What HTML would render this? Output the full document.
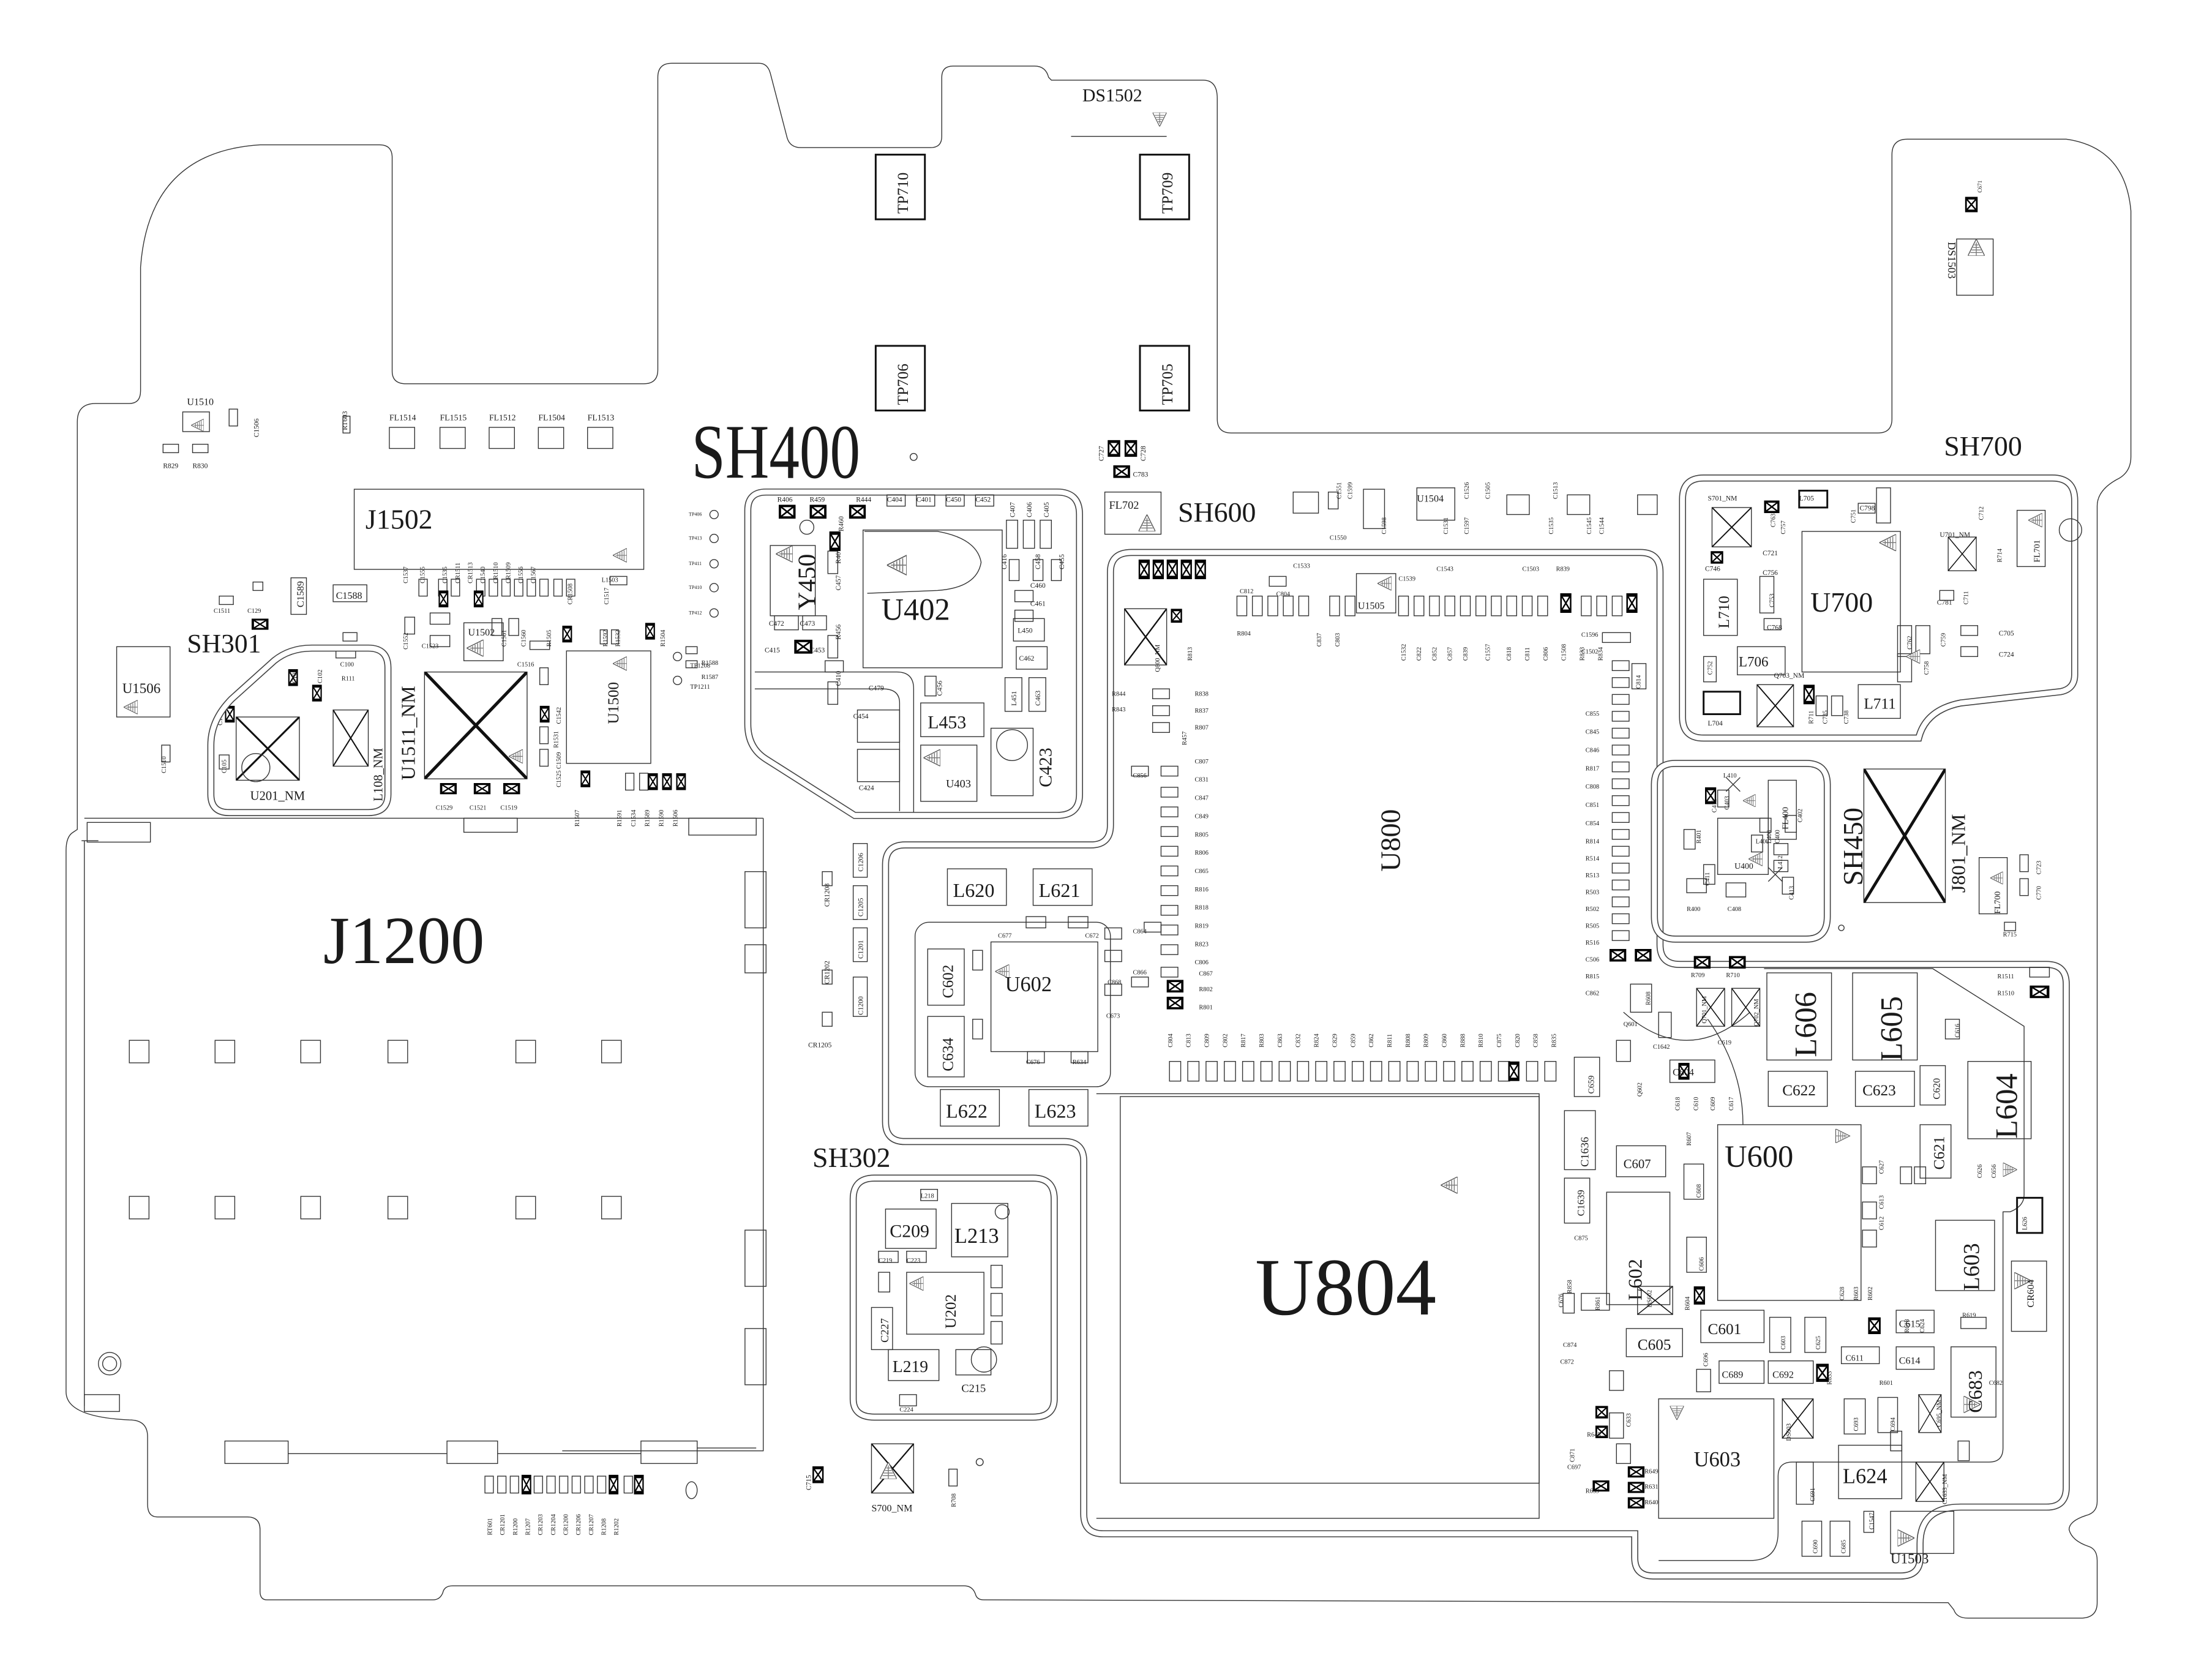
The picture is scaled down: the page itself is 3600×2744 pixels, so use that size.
<!DOCTYPE html>
<html><head><meta charset="utf-8"><style>
html,body{margin:0;padding:0;background:#fff;}
svg{display:block;}
text{font-family:"Liberation Serif",serif;fill:#1a1a1a;}
.l{fill:none;stroke:#333;stroke-width:.6}
.k{fill:none;stroke:#111;stroke-width:1.3}
.d{fill:none;stroke:#444;stroke-width:5}
.w{fill:none;stroke:#fff;stroke-width:3.6}
</style></head><body>
<svg width="3600" height="2744" viewBox="0 0 1568 1195" preserveAspectRatio="none" xmlns="http://www.w3.org/2000/svg">
<defs>
<symbol id="xb" viewBox="0 0 10 8" preserveAspectRatio="none"><rect x=".7" y=".7" width="8.6" height="6.6" fill="#fff" stroke="#000" stroke-width="1.4"/><path d="M1,1 L9,7 M9,1 L1,7" stroke="#000" stroke-width=".9"/></symbol>
<symbol id="tr" viewBox="0 0 10 10"><path d="M10,0 L0,5 L10,10 Z" fill="#fff" stroke="#555" stroke-width=".5"/><path d="M2,5 H10 M3.5,3.8 V6.2 M5,3 V7 M6.5,2.2 V7.8 M8,1.5 V8.5" stroke="#777" stroke-width=".5"/></symbol>
<symbol id="xx" viewBox="0 0 10 10" preserveAspectRatio="none"><path d="M0,0 L10,10 M10,0 L0,10" stroke="#111" stroke-width=".3"/></symbol>
</defs>
<rect width="1568" height="1195" fill="#fff"/>

<!-- board outline -->
<path class="l" d="M55,300 Q55,287 68,287 L92,287 Q100,287 100,278 L100,190 Q106,108 185,103 L270,103 Q279,103 279,112 L279,264 Q279,273 289,273 L458,273 Q468,273 468,263 L468,55 Q468,45 478,45 L540,45 Q546,45 548,52 L560,98 Q562,105 570,105 L662,105 Q670,105 670,97 L670,55 Q670,47 678,47 L736,47 Q744,47 746,55 L748,57 L856,57 Q866,57 866,70 L866,298 Q866,308 876,308 L1336,308 Q1346,308 1346,298 L1346,110 Q1346,99 1357,99 L1470,99 Q1512,105 1516,150 L1516,325 Q1516,335 1508,340 Q1492,348 1492,360 L1492,1068 Q1492,1076 1484,1078 Q1472,1082 1472,1088 Q1474,1096 1486,1100 Q1492,1102 1492,1110 L1492,1140 Q1492,1151 1480,1151 L1400,1151 Q1392,1151 1390,1145 L1386,1140 L700,1138 Q695,1138 694,1134 Q692,1128 686,1128 L322,1128 Q316,1128 315,1133 Q313,1138 308,1138 L190,1138 Q185,1138 185,1132 L185,1088 Q185,1079 176,1079 L112,1079 Q105,1079 105,1070 L105,1022 Q105,1010 92,1010 Q47,1008 47,990 L47,605 Q47,595 52,592 L55,590 Z"/>

<!-- J1200 frame -->
<path class="l" d="M60,598 V1000 M58,598 H70 M543,582 V1032 H400 M60,582 H543"/>
<g class="l"><rect x="62" y="585" width="45" height="14"/><rect x="330" y="582" width="38" height="10"/><rect x="490" y="582" width="48" height="12"/><rect x="530" y="620" width="15" height="40"/><rect x="530" y="672" width="15" height="20"/><rect x="530" y="875" width="15" height="40"/><rect x="530" y="945" width="15" height="40"/><rect x="60" y="992" width="25" height="12"/><rect x="160" y="1025" width="45" height="16"/><rect x="318" y="1025" width="36" height="16"/><rect x="456" y="1025" width="40" height="16"/><path d="M205,1034 H318 M354,1034 H456 M496,1030 H538"/><circle cx="78" cy="970" r="8"/><circle cx="78" cy="970" r="5"/></g>
<g class="l">
<rect x="92" y="740" width="14" height="16"/><rect x="153" y="740" width="14" height="16"/><rect x="214" y="740" width="14" height="16"/><rect x="276" y="740" width="14" height="16"/><rect x="367" y="740" width="14" height="16"/><rect x="428" y="740" width="14" height="16"/>
<rect x="92" y="851" width="14" height="16"/><rect x="153" y="851" width="14" height="16"/><rect x="214" y="851" width="14" height="16"/><rect x="276" y="851" width="14" height="16"/><rect x="367" y="851" width="14" height="16"/><rect x="428" y="851" width="14" height="16"/>
</g>
<text x="230" y="685" font-size="48">J1200</text>

<!-- top-left area -->
<g class="l"><rect x="130" y="293" width="19" height="14"/><rect x="163" y="291" width="6" height="12"/><rect x="116" y="316" width="11" height="6"/><rect x="137" y="316" width="11" height="6"/><rect x="244" y="296" width="5" height="12"/>
<rect x="277" y="304" width="18" height="15"/><rect x="313" y="304" width="18" height="15"/><rect x="348" y="304" width="18" height="15"/><rect x="383" y="304" width="18" height="15"/><rect x="418" y="304" width="18" height="15"/>
<rect x="252" y="348" width="206" height="57"/><rect x="207" y="411" width="11" height="26"/><rect x="237" y="416" width="24" height="12"/>
<rect x="83" y="460" width="38" height="50"/><rect x="330" y="443" width="28" height="27"/><rect x="403" y="463" width="60" height="80"/><rect x="115" y="530" width="6" height="12"/></g>
<use href="#tr" x="136" y="298" width="9" height="9"/><use href="#tr" x="88" y="498" width="10" height="10"/><use href="#tr" x="332" y="455" width="12" height="12"/><use href="#tr" x="436" y="467" width="10" height="10"/><use href="#tr" x="436" y="390" width="10" height="10"/>
<text x="133" y="288" font-size="7">U1510</text><text x="116" y="333" font-size="5">R829</text><text x="137" y="333" font-size="5">R830</text>
<text x="277" y="299" font-size="6">FL1514</text><text x="313" y="299" font-size="6">FL1515</text><text x="348" y="299" font-size="6">FL1512</text><text x="383" y="299" font-size="6">FL1504</text><text x="418" y="299" font-size="6">FL1513</text>
<text x="260" y="376" font-size="20">J1502</text><text x="239" y="426" font-size="7">C1588</text><text x="87" y="493" font-size="10">U1506</text><text x="333" y="452" font-size="7">U1502</text>
<text x="133" y="464" font-size="19">SH301</text>
<text transform="translate(184,311) rotate(-90)" font-size="5">C1506</text><text transform="translate(247,306) rotate(-90)" font-size="5">RT603</text><text transform="translate(216,432) rotate(-90)" font-size="7">C1589</text>
<text transform="translate(440,515) rotate(-90)" font-size="11">U1500</text>
<g class="l">
<rect x="312" y="412" width="6" height="12"/><rect x="321" y="412" width="6" height="12"/><rect x="339" y="412" width="6" height="12"/><rect x="348" y="412" width="6" height="12"/><rect x="357" y="412" width="6" height="12"/><rect x="366" y="412" width="6" height="12"/><rect x="375" y="412" width="6" height="12"/><rect x="384" y="412" width="6" height="12"/><rect x="394" y="412" width="6" height="12"/><rect x="403" y="412" width="6" height="12"/><rect x="434" y="410" width="12" height="6"/>
<rect x="298" y="412" width="6" height="12"/><rect x="306" y="436" width="14" height="8"/><rect x="306" y="452" width="14" height="8"/><rect x="288" y="439" width="7" height="12"/><rect x="350" y="440" width="7" height="12"/><rect x="362" y="440" width="7" height="12"/><rect x="377" y="456" width="14" height="6"/><rect x="384" y="475" width="6" height="12"/><rect x="384" y="517" width="6" height="12"/><rect x="384" y="533" width="6" height="12"/><rect x="427" y="448" width="5" height="10"/><rect x="435" y="448" width="5" height="10"/><rect x="445" y="550" width="6" height="12"/><rect x="455" y="550" width="6" height="12"/><rect x="488" y="460" width="8" height="5"/><rect x="488" y="470" width="8" height="5"/><rect x="180" y="414" width="7" height="6"/><rect x="156" y="424" width="10" height="6"/><rect x="244" y="450" width="10" height="6"/><rect x="239" y="462" width="14" height="6"/></g>
<use href="#xb" x="312" y="420" width="7" height="12"/><use href="#xb" x="337" y="420" width="7" height="12"/><use href="#xb" x="400" y="445" width="7" height="12"/><use href="#xb" x="459" y="443" width="7" height="12"/><use href="#xb" x="384" y="502" width="7" height="12"/><use href="#xb" x="413" y="548" width="7" height="12"/><use href="#xb" x="461" y="550" width="7" height="12"/><use href="#xb" x="471" y="550" width="7" height="12"/><use href="#xb" x="481" y="550" width="7" height="12"/><use href="#xb" x="313" y="557" width="12" height="8"/><use href="#xb" x="337" y="557" width="12" height="8"/><use href="#xb" x="358" y="557" width="12" height="8"/><use href="#xb" x="179" y="440" width="12" height="8"/><use href="#xb" x="205" y="476" width="7" height="12"/><use href="#xb" x="222" y="487" width="7" height="12"/><use href="#xb" x="160" y="502" width="7" height="12"/>
<g font-size="4.5"><text x="152" y="436">C1511</text><text x="176" y="436">C129</text><text x="300" y="461">C1523</text><text x="368" y="474">C1516</text><text x="310" y="576">C1529</text><text x="334" y="576">C1521</text><text x="356" y="576">C1519</text><text x="242" y="474">C100</text><text x="243" y="484">R111</text><text x="428" y="414">L1503</text><text x="499" y="473">R1588</text><text x="499" y="483">R1587</text><text x="491" y="475">TP1208</text><text x="491" y="490">TP1211</text></g>
<g font-size="4.5"><text transform="translate(412,588) rotate(-90)">R1507</text><text transform="translate(442,588) rotate(-90)">R1591</text><text transform="translate(452,588) rotate(-90)">C1534</text><text transform="translate(462,588) rotate(-90)">R1589</text><text transform="translate(472,588) rotate(-90)">R1590</text><text transform="translate(482,588) rotate(-90)">R1506</text><text transform="translate(118,550) rotate(-90)">C1510</text><text transform="translate(290,462) rotate(-90)">C1552</text><text transform="translate(399,515) rotate(-90)">C1542</text><text transform="translate(399,547) rotate(-90)">C1509</text><text transform="translate(399,560) rotate(-90)">C1525</text><text transform="translate(397,532) rotate(-90)">R1531</text><text transform="translate(290,415) rotate(-90)">C1537</text><text transform="translate(302,415) rotate(-90)">C1555</text><text transform="translate(318,415) rotate(-90)">C1535</text><text transform="translate(327,415) rotate(-90)">CR1511</text><text transform="translate(336,415) rotate(-90)">CR1513</text><text transform="translate(345,415) rotate(-90)">C1540</text><text transform="translate(354,415) rotate(-90)">CR1510</text><text transform="translate(363,415) rotate(-90)">CR1509</text><text transform="translate(372,415) rotate(-90)">C1556</text><text transform="translate(381,415) rotate(-90)">C1567</text><text transform="translate(407,430) rotate(-90)">CR1508</text><text transform="translate(433,430) rotate(-90)">C1517</text><text transform="translate(360,460) rotate(-90)">C1561</text><text transform="translate(374,460) rotate(-90)">C1560</text><text transform="translate(392,460) rotate(-90)">R1505</text><text transform="translate(432,460) rotate(-90)">R1592</text><text transform="translate(441,460) rotate(-90)">R1532</text><text transform="translate(473,460) rotate(-90)">R1504</text><text transform="translate(211,486) rotate(-90)">C103</text><text transform="translate(229,486) rotate(-90)">C102</text><text transform="translate(158,516) rotate(-90)">C101</text><text transform="translate(161,550) rotate(-90)">C105</text></g>
<!-- SH301 shield -->
<path class="d" d="M150,530 Q150,512 165,497 L195,470 Q206,461 222,461 H262 Q276,461 276,475 V565 Q276,578 262,578 H163 Q150,578 150,565 Z"/><path class="w" d="M150,530 Q150,512 165,497 L195,470 Q206,461 222,461 H262 Q276,461 276,475 V565 Q276,578 262,578 H163 Q150,578 150,565 Z"/>
<rect class="l" x="168" y="510" width="45" height="45"/><use href="#xx" x="168" y="510" width="45" height="45"/><circle class="l" cx="182" cy="546" r="10"/><rect class="l" x="156" y="537" width="7" height="10"/>
<rect class="l" x="237" y="505" width="25" height="40"/><use href="#xx" x="237" y="505" width="25" height="40"/>
<text x="178" y="569" font-size="9">U201_NM</text><text transform="translate(272,570) rotate(-90)" font-size="9">L108_NM</text>
<rect class="l" x="302" y="478" width="73" height="76"/><use href="#xx" x="302" y="478" width="73" height="76"/><use href="#tr" x="362" y="533" width="10" height="10"/>
<text transform="translate(295,555) rotate(-90)" font-size="14">U1511_NM</text>

<!-- test points TP4xx -->
<g class="l"><circle cx="508" cy="366" r="3"/><circle cx="508" cy="383" r="3"/><circle cx="508" cy="401" r="3"/><circle cx="508" cy="418" r="3"/><circle cx="508" cy="436" r="3"/><circle cx="482" cy="467" r="3"/><circle cx="482" cy="484" r="3"/><circle cx="650" cy="325" r="2.5"/></g>
<g font-size="3.5"><text x="490" y="367">TP406</text><text x="490" y="384">TP413</text><text x="490" y="402">TP411</text><text x="490" y="419">TP410</text><text x="490" y="437">TP412</text></g>

<!-- TP pads top -->
<g class="k"><rect x="623" y="110" width="35" height="46"/><rect x="811" y="110" width="35" height="46"/><rect x="623" y="246" width="35" height="46"/><rect x="811" y="246" width="35" height="46"/></g>
<g font-size="11"><text transform="translate(646,152) rotate(-90)">TP710</text><text transform="translate(834,152) rotate(-90)">TP709</text><text transform="translate(646,288) rotate(-90)">TP706</text><text transform="translate(834,288) rotate(-90)">TP705</text></g>
<text x="770" y="72" font-size="13">DS1502</text><path class="l" d="M762,97 H830"/><use href="#tr" x="820" y="80" width="10" height="10" transform="rotate(-90 825 85)"/>
<rect class="l" x="1392" y="170" width="26" height="40"/><use href="#tr" x="1400" y="170" width="12" height="12" transform="rotate(90 1406 176)"/><use href="#xb" x="1398" y="140" width="9" height="11"/>
<text transform="translate(1386,172) rotate(90)" font-size="8">DS1503</text><text transform="translate(1410,137) rotate(-90)" font-size="4">C671</text>

<!-- SH400 -->
<text x="492" y="340" font-size="55" textLength="120" lengthAdjust="spacingAndGlyphs">SH400</text>
<path class="d" d="M545,350 H752 Q768,350 768,366 V565 Q768,580 752,580 H608 L545,540 Q532,532 532,515 V363 Q532,350 545,350 Z"/><path class="w" d="M545,350 H752 Q768,350 768,366 V565 Q768,580 752,580 H608 L545,540 Q532,532 532,515 V363 Q532,350 545,350 Z"/>
<path class="l" d="M537,478 H638 Q650,478 650,490 V578 M537,490 H628 Q640,490 640,500 V577"/>
<path class="l" d="M615,378 H667 Q695,383 698,400 Q695,418 667,420 L617,422"/>
<g class="l"><rect x="614" y="377" width="99" height="98"/><rect x="548" y="388" width="32" height="50"/><rect x="655" y="500" width="45" height="24"/><rect x="655" y="530" width="40" height="40"/><rect x="705" y="518" width="30" height="48"/><circle cx="720" cy="530" r="11"/><rect x="610" y="505" width="30" height="23"/><rect x="610" y="533" width="30" height="23"/>
<rect x="631" y="352" width="13" height="8"/><rect x="652" y="352" width="13" height="8"/><rect x="673" y="352" width="13" height="8"/><rect x="694" y="352" width="13" height="8"/><rect x="716" y="370" width="8" height="20"/><rect x="728" y="370" width="8" height="20"/><rect x="740" y="370" width="8" height="20"/><rect x="718" y="398" width="7" height="15"/><rect x="735" y="398" width="7" height="15"/><rect x="748" y="398" width="7" height="15"/><rect x="722" y="420" width="13" height="8"/><rect x="722" y="434" width="13" height="8"/><rect x="721" y="440" width="22" height="16"/><rect x="723" y="460" width="22" height="16"/><rect x="715" y="482" width="12" height="24"/><rect x="732" y="482" width="12" height="24"/><rect x="589" y="392" width="7" height="16"/><rect x="589" y="452" width="7" height="16"/><rect x="587" y="470" width="13" height="8"/><rect x="589" y="485" width="7" height="16"/><rect x="551" y="438" width="17" height="10"/><rect x="571" y="438" width="17" height="10"/><rect x="658" y="481" width="8" height="14"/><circle cx="574" cy="375" r="5"/></g>
<use href="#xb" x="554" y="359" width="12" height="10"/><use href="#xb" x="576" y="359" width="12" height="10"/><use href="#xb" x="604" y="359" width="12" height="10"/><use href="#xb" x="590" y="378" width="8" height="14"/><use href="#xb" x="565" y="455" width="13" height="10"/><use href="#tr" x="552" y="388" width="12" height="12"/><use href="#tr" x="631" y="393" width="14" height="18"/><use href="#tr" x="657" y="533" width="12" height="12"/>
<text x="627" y="441" font-size="22">U402</text><text transform="translate(580,434) rotate(-90)" font-size="18">Y450</text><text x="660" y="518" font-size="13">L453</text><text x="673" y="560" font-size="8">U403</text><text transform="translate(748,560) rotate(-90)" font-size="13">C423</text>
<g font-size="5"><text x="553" y="357">R406</text><text x="576" y="357">R459</text><text x="609" y="357">R444</text><text x="631" y="357">C404</text><text x="652" y="357">C401</text><text x="673" y="357">C450</text><text x="694" y="357">C452</text><text x="724" y="450">L450</text><text x="725" y="470">C462</text><text x="733" y="418">C460</text><text x="733" y="431">C461</text><text x="544" y="464">C415</text><text x="576" y="464">C453</text><text x="547" y="445">C472</text><text x="569" y="445">C473</text><text x="618" y="491">C479</text><text x="607" y="511">C454</text><text x="611" y="562">C424</text></g>
<g font-size="5"><text transform="translate(600,378) rotate(-90)">R460</text><text transform="translate(598,401) rotate(-90)">R407</text><text transform="translate(598,420) rotate(-90)">C457</text><text transform="translate(598,455) rotate(-90)">R456</text><text transform="translate(598,488) rotate(-90)">C410</text><text transform="translate(722,368) rotate(-90)">C407</text><text transform="translate(734,368) rotate(-90)">C406</text><text transform="translate(746,368) rotate(-90)">C405</text><text transform="translate(716,405) rotate(-90)">C416</text><text transform="translate(740,405) rotate(-90)">C458</text><text transform="translate(757,405) rotate(-90)">C455</text><text transform="translate(670,495) rotate(-90)">C456</text><text transform="translate(723,502) rotate(-90)">L451</text><text transform="translate(740,502) rotate(-90)">C463</text></g>

<use href="#xb" x="788" y="313" width="9" height="12"/><use href="#xb" x="800" y="313" width="9" height="12"/><use href="#xb" x="792" y="331" width="12" height="9"/>
<g font-size="5"><text transform="translate(785,328) rotate(-90)">C727</text><text transform="translate(815,328) rotate(-90)">C728</text><text x="806" y="339">C783</text></g>
<rect class="l" x="786" y="350" width="40" height="30"/><text x="789" y="362" font-size="8">FL702</text><use href="#tr" x="810" y="366" width="12" height="12" transform="rotate(90 816 372)"/>
<text x="838" y="371" font-size="20">SH600</text>

<!-- big shield SH600 / U804 / right -->
<path class="d" d="M805,393 H1167 Q1181,393 1181,407 V672 Q1181,686 1195,686 H1456 Q1470,686 1470,700 V1058 Q1470,1072 1456,1072 H1395 Q1366,1072 1366,1098 V1108 Q1366,1121 1352,1121 H1176 Q1163,1121 1163,1108 V1091 H785 Q771,1091 771,1077 V826 Q771,812 757,812 H644 Q630,812 630,798 V615 Q630,601 644,601 H776 Q790,601 790,587 V407 Q790,393 805,393 Z"/>
<path class="w" d="M805,393 H1167 Q1181,393 1181,407 V672 Q1181,686 1195,686 H1456 Q1470,686 1470,700 V1058 Q1470,1072 1456,1072 H1395 Q1366,1072 1366,1098 V1108 Q1366,1121 1352,1121 H1176 Q1163,1121 1163,1108 V1091 H785 Q771,1091 771,1077 V826 Q771,812 757,812 H644 Q630,812 630,798 V615 Q630,601 644,601 H776 Q790,601 790,587 V407 Q790,393 805,393 Z"/>
<path class="l" d="M1255,689 H1375 L1440,730 V850 Q1440,858 1430,862 H1425 V1030 Q1425,1040 1415,1040 H1275 Q1265,1040 1265,1050 V1090 Q1265,1110 1245,1110 H1180"/>
<path class="l" d="M780,778 H1095 V1080 H780"/>
<rect class="l" x="797" y="780" width="298" height="275"/>
<text x="893" y="935" font-size="58">U804</text><use href="#tr" x="1025" y="837" width="12" height="12"/>
<!-- U800 pads -->
<g class="l">
<rect x="880" y="424" width="7" height="14"/><rect x="891" y="424" width="7" height="14"/><rect x="902" y="424" width="7" height="14"/><rect x="913" y="424" width="7" height="14"/><rect x="924" y="424" width="7" height="14"/><rect x="946" y="424" width="7" height="14"/><rect x="957" y="424" width="7" height="14"/><rect x="995" y="424" width="7" height="14"/><rect x="1006" y="424" width="7" height="14"/><rect x="1017" y="424" width="7" height="14"/><rect x="1028" y="424" width="7" height="14"/><rect x="1039" y="424" width="7" height="14"/><rect x="1050" y="424" width="7" height="14"/><rect x="1061" y="424" width="7" height="14"/><rect x="1072" y="424" width="7" height="14"/><rect x="1083" y="424" width="7" height="14"/><rect x="1094" y="424" width="7" height="14"/><rect x="1125" y="424" width="7" height="14"/><rect x="1136" y="424" width="7" height="14"/><rect x="1147" y="424" width="7" height="14"/>
<rect x="845" y="755" width="8" height="14"/><rect x="858" y="755" width="8" height="14"/><rect x="871" y="755" width="8" height="14"/><rect x="884" y="755" width="8" height="14"/><rect x="897" y="755" width="8" height="14"/><rect x="910" y="755" width="8" height="14"/><rect x="923" y="755" width="8" height="14"/><rect x="936" y="755" width="8" height="14"/><rect x="949" y="755" width="8" height="14"/><rect x="962" y="755" width="8" height="14"/><rect x="975" y="755" width="8" height="14"/><rect x="988" y="755" width="8" height="14"/><rect x="1001" y="755" width="8" height="14"/><rect x="1014" y="755" width="8" height="14"/><rect x="1027" y="755" width="8" height="14"/><rect x="1040" y="755" width="8" height="14"/><rect x="1053" y="755" width="8" height="14"/><rect x="1066" y="755" width="8" height="14"/><rect x="1086" y="755" width="8" height="14"/><rect x="1099" y="755" width="8" height="14"/><rect x="832" y="755" width="8" height="14"/>
<rect x="1147" y="470" width="12" height="7"/><rect x="1147" y="482" width="12" height="7"/><rect x="1147" y="494" width="12" height="7"/><rect x="1147" y="506" width="12" height="7"/><rect x="1147" y="518" width="12" height="7"/><rect x="1147" y="530" width="12" height="7"/><rect x="1147" y="542" width="12" height="7"/><rect x="1147" y="554" width="12" height="7"/><rect x="1147" y="566" width="12" height="7"/><rect x="1147" y="578" width="12" height="7"/><rect x="1147" y="590" width="12" height="7"/><rect x="1147" y="602" width="12" height="7"/><rect x="1147" y="614" width="12" height="7"/><rect x="1147" y="626" width="12" height="7"/><rect x="1147" y="638" width="12" height="7"/><rect x="1147" y="650" width="12" height="7"/><rect x="1147" y="662" width="12" height="7"/>
<rect x="820" y="490" width="12" height="7"/><rect x="820" y="502" width="12" height="7"/><rect x="820" y="514" width="12" height="7"/><rect x="805" y="545" width="12" height="7"/><rect x="826" y="545" width="12" height="7"/><rect x="826" y="560" width="12" height="7"/><rect x="826" y="574" width="12" height="7"/><rect x="826" y="588" width="12" height="7"/><rect x="826" y="602" width="12" height="7"/><rect x="826" y="616" width="12" height="7"/><rect x="826" y="630" width="12" height="7"/><rect x="826" y="644" width="12" height="7"/><rect x="826" y="658" width="12" height="7"/><rect x="826" y="672" width="12" height="7"/><rect x="826" y="688" width="12" height="7"/><rect x="805" y="695" width="12" height="7"/><rect x="814" y="656" width="12" height="7"/>
<rect x="920" y="350" width="18" height="15"/><rect x="970" y="348" width="15" height="28"/><rect x="1008" y="347" width="27" height="23"/><rect x="1072" y="352" width="16" height="14"/><rect x="1115" y="352" width="16" height="14"/><rect x="1165" y="352" width="14" height="14"/><rect x="965" y="408" width="28" height="28"/><rect x="945" y="350" width="7" height="12"/><rect x="903" y="410" width="12" height="7"/><rect x="1140" y="450" width="20" height="7"/><rect x="1161" y="472" width="10" height="18"/><rect x="1113" y="790" width="22" height="42"/><rect x="1113" y="838" width="18" height="32"/><rect x="1143" y="848" width="45" height="80"/><rect x="1160" y="700" width="15" height="20"/><rect x="1150" y="740" width="10" height="15"/><rect x="1120" y="752" width="18" height="28"/><rect x="1112" y="920" width="8" height="14"/></g>
<use href="#xb" x="810" y="398" width="8" height="14"/><use href="#xb" x="820" y="398" width="8" height="14"/><use href="#xb" x="830" y="398" width="8" height="14"/><use href="#xb" x="840" y="398" width="8" height="14"/><use href="#xb" x="850" y="398" width="8" height="14"/><use href="#xb" x="833" y="433" width="8" height="10"/><use href="#xb" x="1110" y="422" width="8" height="14"/><use href="#xb" x="1157" y="422" width="8" height="14"/><use href="#xb" x="1073" y="755" width="8" height="14"/><use href="#xb" x="830" y="697" width="12" height="9"/><use href="#xb" x="830" y="709" width="12" height="9"/><use href="#xb" x="1145" y="675" width="12" height="9"/><use href="#xb" x="1163" y="675" width="12" height="9"/>
<rect class="l" x="800" y="433" width="30" height="40"/><use href="#xx" x="800" y="433" width="30" height="40"/>
<text transform="translate(996,620) rotate(-90)" font-size="20">U800</text>
<text x="1008" y="357" font-size="7">U1504</text><text x="966" y="433" font-size="7">U1505</text><use href="#tr" x="980" y="410" width="10" height="10"/>
<g font-size="4.5"><text x="882" y="422">C812</text><text x="908" y="424">C804</text><text x="880" y="452">R804</text><text x="1022" y="406">C1543</text><text x="995" y="413">C1539</text><text x="1083" y="406">C1503</text><text x="1107" y="406">R839</text><text x="920" y="404">C1533</text><text x="946" y="384">C1550</text><text x="1125" y="453">C1596</text><text x="1125" y="465">C1502</text><text x="791" y="495">R844</text><text x="791" y="506">R843</text><text x="806" y="553">C856</text><text x="850" y="495">R838</text><text x="850" y="507">R837</text><text x="850" y="519">R807</text><text x="850" y="543">C807</text><text x="850" y="556">C831</text><text x="850" y="569">C847</text><text x="850" y="582">C849</text><text x="850" y="595">R805</text><text x="850" y="608">R806</text><text x="850" y="621">C865</text><text x="850" y="634">R816</text><text x="850" y="647">R818</text><text x="850" y="660">R819</text><text x="850" y="673">R823</text><text x="850" y="686">C806</text><text x="853" y="705">R802</text><text x="853" y="718">R801</text><text x="1128" y="509">C855</text><text x="1128" y="522">C845</text><text x="1128" y="535">C846</text><text x="1128" y="548">R817</text><text x="1128" y="561">C808</text><text x="1128" y="574">C851</text><text x="1128" y="587">C854</text><text x="1128" y="600">R814</text><text x="1128" y="612">R514</text><text x="1128" y="624">R513</text><text x="1128" y="636">R503</text><text x="1128" y="648">R502</text><text x="1128" y="660">R505</text><text x="1128" y="672">R516</text><text x="1128" y="684">C506</text><text x="1128" y="696">R815</text><text x="1128" y="708">C862</text></g>
<g font-size="4.5"><text transform="translate(834,745) rotate(-90)">C804</text><text transform="translate(847,745) rotate(-90)">C813</text><text transform="translate(860,745) rotate(-90)">C809</text><text transform="translate(873,745) rotate(-90)">C802</text><text transform="translate(886,745) rotate(-90)">R817</text><text transform="translate(899,745) rotate(-90)">R803</text><text transform="translate(912,745) rotate(-90)">C863</text><text transform="translate(925,745) rotate(-90)">C832</text><text transform="translate(938,745) rotate(-90)">R824</text><text transform="translate(951,745) rotate(-90)">C829</text><text transform="translate(964,745) rotate(-90)">C859</text><text transform="translate(977,745) rotate(-90)">C862</text><text transform="translate(990,745) rotate(-90)">R811</text><text transform="translate(1003,745) rotate(-90)">R808</text><text transform="translate(1016,745) rotate(-90)">R809</text><text transform="translate(1029,745) rotate(-90)">C860</text><text transform="translate(1042,745) rotate(-90)">R888</text><text transform="translate(1055,745) rotate(-90)">R810</text><text transform="translate(1068,745) rotate(-90)">C875</text><text transform="translate(1081,745) rotate(-90)">C820</text><text transform="translate(1094,745) rotate(-90)">C858</text><text transform="translate(1107,745) rotate(-90)">R835</text><text transform="translate(1000,470) rotate(-90)">C1532</text><text transform="translate(1011,470) rotate(-90)">C822</text><text transform="translate(1022,470) rotate(-90)">C852</text><text transform="translate(1033,470) rotate(-90)">C857</text><text transform="translate(1044,470) rotate(-90)">C839</text><text transform="translate(1060,470) rotate(-90)">C1557</text><text transform="translate(1075,470) rotate(-90)">C818</text><text transform="translate(1088,470) rotate(-90)">C811</text><text transform="translate(1101,470) rotate(-90)">C806</text><text transform="translate(1114,470) rotate(-90)">C1508</text><text transform="translate(1127,470) rotate(-90)">R833</text><text transform="translate(1140,470) rotate(-90)">R834</text><text transform="translate(940,460) rotate(-90)">C837</text><text transform="translate(953,460) rotate(-90)">C803</text><text transform="translate(1167,490) rotate(-90)">C814</text><text transform="translate(986,380) rotate(-90)">C1598</text><text transform="translate(1045,380) rotate(-90)">C1597</text><text transform="translate(1045,355) rotate(-90)">C1526</text><text transform="translate(1060,355) rotate(-90)">C1505</text><text transform="translate(1108,355) rotate(-90)">C1513</text><text transform="translate(1105,380) rotate(-90)">C1535</text><text transform="translate(1132,380) rotate(-90)">C1545</text><text transform="translate(1141,380) rotate(-90)">C1544</text><text transform="translate(954,355) rotate(-90)">C1551</text><text transform="translate(962,355) rotate(-90)">C1599</text><text transform="translate(1030,380) rotate(-90)">C1531</text><text transform="translate(844,530) rotate(-90)">R457</text><text transform="translate(825,478) rotate(-90)">Q800_NM</text><text transform="translate(848,470) rotate(-90)">R813</text><text transform="translate(1130,830) rotate(-90)" font-size="8">C1636</text><text transform="translate(1127,865) rotate(-90)" font-size="7">C1639</text><text transform="translate(1168,925) rotate(-90)" font-size="14">L602</text><text transform="translate(1134,778) rotate(-90)" font-size="6">C659</text><text transform="translate(1174,715) rotate(-90)">R608</text></g>

<!-- U602 area -->
<rect class="l" x="651" y="656" width="139" height="117" rx="10"/>
<g class="l"><rect x="705" y="670" width="76" height="78"/><rect x="674" y="618" width="42" height="26"/><rect x="735" y="618" width="42" height="26"/><rect x="669" y="775" width="42" height="26"/><rect x="732" y="775" width="42" height="26"/><rect x="660" y="675" width="26" height="40"/><rect x="660" y="723" width="26" height="43"/><rect x="730" y="652" width="14" height="8"/><rect x="760" y="652" width="14" height="8"/><rect x="692" y="676" width="7" height="14"/><rect x="692" y="725" width="7" height="14"/><rect x="786" y="660" width="12" height="8"/><rect x="786" y="676" width="12" height="8"/><rect x="786" y="700" width="12" height="8"/><rect x="731" y="748" width="12" height="8"/><rect x="762" y="748" width="12" height="8"/><rect x="607" y="600" width="10" height="24"/><rect x="607" y="630" width="10" height="24"/><rect x="607" y="660" width="10" height="24"/><rect x="607" y="695" width="10" height="28"/><rect x="585" y="620" width="7" height="10"/><rect x="585" y="690" width="7" height="10"/><rect x="585" y="720" width="7" height="10"/></g>
<use href="#tr" x="708" y="686" width="10" height="10"/>
<text x="715" y="705" font-size="15">U602</text><text x="678" y="638" font-size="14">L620</text><text x="739" y="638" font-size="14">L621</text><text x="673" y="795" font-size="14">L622</text><text x="736" y="795" font-size="14">L623</text>
<text transform="translate(678,710) rotate(-90)" font-size="11">C602</text><text transform="translate(678,762) rotate(-90)" font-size="11">C634</text>
<g font-size="4.5"><text x="710" y="667">C677</text><text x="772" y="667">C672</text><text x="806" y="664">C864</text><text x="806" y="693">C866</text><text x="788" y="700">C868</text><text x="787" y="724">C673</text><text x="730" y="757">C676</text><text x="763" y="757">R634</text><text x="853" y="694">C867</text></g>
<g font-size="5"><text transform="translate(614,620) rotate(-90)">C1206</text><text transform="translate(614,652) rotate(-90)">C1205</text><text transform="translate(614,682) rotate(-90)">C1201</text><text transform="translate(614,722) rotate(-90)">C1200</text><text transform="translate(590,645) rotate(-90)">CR1208</text><text transform="translate(590,700) rotate(-90)">CR1202</text><text transform="translate(575,745)">CR1205</text></g>

<!-- SH302 -->
<text x="578" y="830" font-size="20">SH302</text>
<path class="d" d="M622,838 H735 Q750,838 750,853 V995 Q750,1008 735,1008 H622 Q607,1008 607,995 V853 Q607,838 622,838 Z"/><path class="w" d="M622,838 H735 Q750,838 750,853 V995 Q750,1008 735,1008 H622 Q607,1008 607,995 V853 Q607,838 622,838 Z"/>
<g class="l"><rect x="630" y="860" width="36" height="28"/><rect x="677" y="856" width="40" height="38"/><circle cx="713" cy="862" r="5"/><rect x="645" y="905" width="55" height="44"/><rect x="632" y="960" width="36" height="22"/><rect x="680" y="960" width="25" height="18"/><circle cx="700" cy="967" r="9"/><rect x="620" y="930" width="15" height="30"/><rect x="640" y="992" width="12" height="8"/><rect x="655" y="846" width="12" height="8"/><rect x="625" y="890" width="14" height="8"/><rect x="645" y="890" width="14" height="8"/><rect x="625" y="905" width="8" height="14"/><rect x="705" y="900" width="8" height="16"/><rect x="705" y="920" width="8" height="16"/><rect x="705" y="940" width="8" height="16"/></g>
<use href="#tr" x="647" y="908" width="10" height="10"/>
<text x="633" y="880" font-size="13">C209</text><text x="679" y="884" font-size="15">L213</text><text transform="translate(680,945) rotate(-90)" font-size="11">U202</text><text x="635" y="976" font-size="12">L219</text><text x="684" y="990" font-size="8">C215</text><text transform="translate(632,955) rotate(-90)" font-size="8">C227</text>
<g font-size="4.5"><text x="655" y="852">L218</text><text x="625" y="898">C219</text><text x="645" y="898">C223</text><text x="640" y="1004">C224</text></g>
<rect class="l" x="620" y="1027" width="30" height="35"/><use href="#xx" x="620" y="1027" width="30" height="35"/><use href="#tr" x="626" y="1040" width="12" height="12" transform="rotate(90 632 1046)"/>
<text x="620" y="1075" font-size="7">S700_NM</text><use href="#xb" x="578" y="1043" width="8" height="12"/><text transform="translate(577,1060) rotate(-90)" font-size="5">C715</text>
<rect class="l" x="675" y="1045" width="6" height="12"/><text transform="translate(680,1072) rotate(-90)" font-size="4.5">R708</text><circle class="l" cx="697" cy="1040" r="2.5"/>
<!-- bottom row -->
<g class="l"><rect x="345" y="1050" width="6" height="12"/><rect x="354" y="1050" width="6" height="12"/><rect x="363" y="1050" width="6" height="12"/><rect x="380" y="1050" width="6" height="12"/><rect x="389" y="1050" width="6" height="12"/><rect x="398" y="1050" width="6" height="12"/><rect x="407" y="1050" width="6" height="12"/><rect x="416" y="1050" width="6" height="12"/><rect x="425" y="1050" width="6" height="12"/><rect x="444" y="1050" width="6" height="12"/><ellipse cx="492" cy="1060" rx="4" ry="6"/></g>
<use href="#xb" x="371" y="1049" width="7" height="14"/><use href="#xb" x="433" y="1049" width="7" height="14"/><use href="#xb" x="451" y="1049" width="7" height="14"/>
<g font-size="4.5"><text transform="translate(350,1092) rotate(-90)">RT601</text><text transform="translate(359,1092) rotate(-90)">CR1201</text><text transform="translate(368,1092) rotate(-90)">R1200</text><text transform="translate(377,1092) rotate(-90)">R1207</text><text transform="translate(386,1092) rotate(-90)">CR1203</text><text transform="translate(395,1092) rotate(-90)">CR1204</text><text transform="translate(404,1092) rotate(-90)">CR1200</text><text transform="translate(413,1092) rotate(-90)">CR1206</text><text transform="translate(422,1092) rotate(-90)">CR1207</text><text transform="translate(431,1092) rotate(-90)">R1208</text><text transform="translate(440,1092) rotate(-90)">R1202</text></g>

<!-- SH700 -->
<text x="1383" y="324" font-size="20">SH700</text>
<path class="d" d="M1212,340 H1460 Q1476,340 1476,356 V480 Q1476,490 1466,492 L1395,500 Q1370,505 1365,525 H1212 Q1197,525 1197,510 V355 Q1197,340 1212,340 Z"/><path class="w" d="M1212,340 H1460 Q1476,340 1476,356 V480 Q1476,490 1466,492 L1395,500 Q1370,505 1365,525 H1212 Q1197,525 1197,510 V355 Q1197,340 1212,340 Z"/>
<circle class="l" cx="1473" cy="377" r="8"/>
<g class="l"><rect x="1282" y="378" width="70" height="100"/><rect x="1212" y="412" width="24" height="40"/><rect x="1236" y="460" width="34" height="20"/><rect x="1322" y="487" width="30" height="24"/><rect x="1435" y="363" width="20" height="40"/><rect x="1335" y="347" width="10" height="25"/><rect x="1322" y="358" width="12" height="7"/><rect x="1252" y="410" width="10" height="26"/><rect x="1255" y="440" width="12" height="8"/><rect x="1350" y="445" width="10" height="22"/><rect x="1363" y="445" width="10" height="20"/><rect x="1380" y="420" width="10" height="7"/><rect x="1395" y="445" width="12" height="7"/><rect x="1395" y="460" width="12" height="7"/><rect x="1350" y="465" width="10" height="20"/><rect x="1212" y="467" width="9" height="18"/><rect x="1292" y="495" width="8" height="14"/><rect x="1303" y="495" width="8" height="14"/></g>
<g class="k"><rect x="1280" y="349" width="20" height="12"/><rect x="1212" y="492" width="26" height="16"/></g>
<rect class="l" x="1218" y="361" width="28" height="28"/><use href="#xx" x="1218" y="361" width="28" height="28"/>
<rect class="l" x="1386" y="382" width="20" height="24"/><use href="#xx" x="1386" y="382" width="20" height="24"/>
<rect class="l" x="1250" y="487" width="26" height="30"/><use href="#xx" x="1250" y="487" width="26" height="30"/>
<use href="#xb" x="1255" y="356" width="11" height="9"/><use href="#xb" x="1217" y="392" width="9" height="9"/><use href="#xb" x="1283" y="487" width="8" height="14"/>
<use href="#tr" x="1337" y="380" width="12" height="12"/><use href="#tr" x="1356" y="462" width="10" height="10"/><use href="#tr" x="1443" y="365" width="10" height="10"/>
<text x="1288" y="435" font-size="20">U700</text><text transform="translate(1230,447) rotate(-90)" font-size="11">L710</text><text x="1237" y="474" font-size="10">L706</text><text x="1326" y="504" font-size="11">L711</text><text transform="translate(1451,400) rotate(-90)" font-size="6">FL701</text>
<g font-size="5"><text x="1215" y="356">S701_NM</text><text x="1280" y="356">L705</text><text x="1380" y="382">U701_NM</text><text x="1323" y="363">C798</text><text x="1262" y="482">Q703_NM</text><text x="1215" y="516">L704</text><text x="1422" y="452">C705</text><text x="1422" y="467">C724</text><text x="1378" y="430">C781</text><text x="1254" y="395">C721</text><text x="1254" y="409">C756</text><text x="1257" y="448">C768</text><text x="1213" y="406">C746</text></g>
<g font-size="4.5"><text transform="translate(1263,375) rotate(-90)">C763</text><text transform="translate(1270,380) rotate(-90)">C757</text><text transform="translate(1320,372) rotate(-90)">C751</text><text transform="translate(1262,432) rotate(-90)">C753</text><text transform="translate(1360,462) rotate(-90)">C762</text><text transform="translate(1372,480) rotate(-90)">C758</text><text transform="translate(1384,460) rotate(-90)">C759</text><text transform="translate(1400,430) rotate(-90)">C711</text><text transform="translate(1411,370) rotate(-90)">C712</text><text transform="translate(1424,400) rotate(-90)">R714</text><text transform="translate(1218,480) rotate(-90)">C752</text><text transform="translate(1290,515) rotate(-90)">R711</text><text transform="translate(1300,515) rotate(-90)">C735</text><text transform="translate(1315,515) rotate(-90)">C738</text></g>

<!-- SH450 -->
<path class="d" d="M1192,543 H1285 Q1300,543 1300,558 V652 Q1300,668 1285,668 H1192 Q1177,668 1177,652 V558 Q1177,543 1192,543 Z"/><path class="w" d="M1192,543 H1285 Q1300,543 1300,558 V652 Q1300,668 1285,668 H1192 Q1177,668 1177,652 V558 Q1177,543 1192,543 Z"/>
<g class="l"><rect x="1222" y="582" width="36" height="40"/><rect x="1258" y="555" width="20" height="42"/><rect x="1198" y="590" width="8" height="14"/><rect x="1212" y="615" width="8" height="14"/><rect x="1200" y="625" width="14" height="10"/><rect x="1228" y="628" width="14" height="10"/><rect x="1262" y="600" width="10" height="8"/><rect x="1262" y="612" width="10" height="8"/><rect x="1268" y="624" width="8" height="12"/><rect x="1222" y="562" width="8" height="12"/><rect x="1246" y="594" width="8" height="12"/><rect x="1252" y="582" width="8" height="10"/><rect x="1270" y="580" width="8" height="12"/></g>
<use href="#xb" x="1213" y="560" width="8" height="12"/><use href="#tr" x="1244" y="606" width="10" height="10"/><use href="#tr" x="1240" y="565" width="9" height="9"/>
<path class="l" d="M1228,553 L1238,563 M1238,553 L1228,563 M1258,617 L1268,627 M1268,617 L1258,627"/>
<text x="1234" y="618" font-size="6">U400</text><text transform="translate(1272,590) rotate(-90)" font-size="6">FL400</text>
<g font-size="4.5"><text x="1226" y="553">L410</text><text x="1249" y="600">L408</text><text x="1200" y="648">R400</text><text x="1229" y="648">C408</text><text transform="translate(1210,600) rotate(-90)">R401</text><text transform="translate(1216,630) rotate(-90)">C411</text><text transform="translate(1230,576) rotate(-90)">C403</text><text transform="translate(1276,640) rotate(-90)">C413</text><text transform="translate(1268,618) rotate(-90)">L412</text><text transform="translate(1266,600) rotate(-90)">C400</text><text transform="translate(1260,600) rotate(-90)">L406</text><text transform="translate(1282,585) rotate(-90)">C402</text><text transform="translate(1221,578) rotate(-90)">C412</text></g>
<text transform="translate(1325,630) rotate(-90)" font-size="20">SH450</text>
<rect class="l" x="1326" y="547" width="58" height="95"/><use href="#xx" x="1326" y="547" width="58" height="95"/>
<text transform="translate(1398,635) rotate(-90)" font-size="14">J801_NM</text>
<rect class="l" x="1408" y="610" width="20" height="40"/><text transform="translate(1423,650) rotate(-90)" font-size="6">FL700</text><use href="#tr" x="1416" y="620" width="9" height="9"/>
<g class="l"><rect x="1437" y="608" width="6" height="12"/><rect x="1437" y="625" width="6" height="12"/><rect x="1426" y="656" width="8" height="6"/><rect x="1444" y="688" width="14" height="7"/><circle cx="1310" cy="660" r="2"/></g>
<g font-size="4.5"><text transform="translate(1452,622) rotate(-90)">C723</text><text transform="translate(1452,640) rotate(-90)">C770</text><text x="1425" y="666">R715</text><text x="1421" y="696">R1511</text><text x="1421" y="708">R1510</text></g>
<use href="#xb" x="1444" y="701" width="14" height="9"/>

<!-- U600 area -->
<g class="l"><rect x="1257" y="692" width="46" height="62"/><rect x="1318" y="692" width="46" height="62"/><rect x="1222" y="800" width="102" height="125"/><rect x="1400" y="755" width="45" height="55"/><rect x="1377" y="868" width="42" height="50"/><rect x="1258" y="762" width="42" height="25"/><rect x="1320" y="762" width="42" height="25"/><rect x="1366" y="800" width="22" height="38"/><rect x="1366" y="758" width="18" height="28"/><rect x="1157" y="945" width="40" height="20"/><rect x="1210" y="932" width="45" height="23"/><rect x="1180" y="995" width="82" height="85"/><rect x="1308" y="1028" width="45" height="38"/><rect x="1388" y="958" width="32" height="50"/><rect x="1431" y="897" width="25" height="50"/><rect x="1188" y="754" width="32" height="16"/><rect x="1150" y="815" width="35" height="22"/><rect x="1198" y="828" width="14" height="25"/><rect x="1200" y="880" width="14" height="25"/><rect x="1259" y="937" width="15" height="25"/><rect x="1284" y="937" width="15" height="25"/><rect x="1310" y="958" width="27" height="12"/><rect x="1349" y="932" width="27" height="16"/><rect x="1349" y="958" width="27" height="16"/><rect x="1223" y="968" width="32" height="16"/><rect x="1258" y="968" width="32" height="16"/><rect x="1336" y="994" width="14" height="25"/><rect x="1312" y="995" width="15" height="25"/><rect x="1278" y="1040" width="12" height="30"/><rect x="1282" y="1082" width="14" height="25"/><rect x="1302" y="1082" width="14" height="25"/><rect x="1326" y="1075" width="7" height="15"/><rect x="1345" y="1075" width="45" height="30"/><rect x="1125" y="920" width="20" height="12"/><rect x="1207" y="974" width="10" height="16"/><rect x="1362" y="830" width="8" height="12"/><rect x="1352" y="830" width="8" height="12"/><rect x="1325" y="855" width="10" height="12"/><rect x="1325" y="875" width="10" height="12"/><rect x="1325" y="830" width="10" height="12"/><rect x="1395" y="937" width="18" height="8"/><rect x="1345" y="1018" width="8" height="14"/><rect x="1384" y="725" width="10" height="14"/><rect x="1180" y="720" width="9" height="18"/><rect x="1393" y="1025" width="8" height="14"/><rect x="1145" y="1005" width="10" height="18"/><rect x="1145" y="975" width="10" height="14"/><rect x="1150" y="1027" width="10" height="14"/></g>
<g class="k"><rect x="1435" y="852" width="18" height="25"/></g>
<path class="l" d="M1155,720 Q1200,760 1245,720 M1215,725 Q1240,760 1240,800"/>
<use href="#xb" x="1194" y="756" width="8" height="12"/><use href="#xb" x="1205" y="680" width="12" height="9"/><use href="#xb" x="1230" y="680" width="12" height="9"/><use href="#xb" x="1329" y="937" width="9" height="12"/><use href="#xb" x="1292" y="970" width="9" height="13"/><use href="#xb" x="1205" y="915" width="8" height="13"/><use href="#xb" x="1158" y="1043" width="12" height="8"/><use href="#xb" x="1158" y="1054" width="12" height="8"/><use href="#xb" x="1158" y="1065" width="12" height="8"/><use href="#xb" x="1133" y="1053" width="12" height="8"/><use href="#xb" x="1135" y="1000" width="9" height="9"/><use href="#xb" x="1135" y="1014" width="9" height="9"/>
<g><rect class="l" x="1207" y="703" width="20" height="27"/><use href="#xx" x="1207" y="703" width="20" height="27"/><rect class="l" x="1232" y="703" width="20" height="27"/><use href="#xx" x="1232" y="703" width="20" height="27"/><rect class="l" x="1165" y="915" width="25" height="20"/><use href="#xx" x="1165" y="915" width="25" height="20"/><rect class="l" x="1365" y="992" width="16" height="27"/><use href="#xx" x="1365" y="992" width="16" height="27"/><rect class="l" x="1363" y="1040" width="20" height="28"/><use href="#xx" x="1363" y="1040" width="20" height="28"/><rect class="l" x="1268" y="995" width="22" height="28"/><use href="#xx" x="1268" y="995" width="22" height="28"/></g>
<use href="#tr" x="1305" y="803" width="12" height="10" transform="rotate(180 1311 808)"/><use href="#tr" x="1188" y="1000" width="10" height="10" transform="rotate(-90 1193 1005)"/><use href="#tr" x="1397" y="993" width="12" height="12" transform="rotate(180 1403 999)"/><use href="#tr" x="1433" y="905" width="12" height="12" transform="rotate(180 1439 911)"/><use href="#tr" x="1425" y="827" width="10" height="10" transform="rotate(180 1430 832)"/><use href="#tr" x="1350" y="1088" width="12" height="12" transform="rotate(180 1356 1094)"/>
<text transform="translate(1292,752) rotate(-90)" font-size="22">L606</text><text transform="translate(1353,755) rotate(-90)" font-size="22">L605</text><text transform="translate(1435,810) rotate(-90)" font-size="22">L604</text><text transform="translate(1408,918) rotate(-90)" font-size="16">L603</text>
<text x="1227" y="830" font-size="22">U600</text><text x="1268" y="779" font-size="11">C622</text><text x="1325" y="779" font-size="11">C623</text><text transform="translate(1383,832) rotate(-90)" font-size="11">C621</text><text transform="translate(1380,782) rotate(-90)" font-size="7">C620</text>
<text x="1165" y="960" font-size="11">C605</text><text x="1215" y="949" font-size="11">C601</text><text x="1205" y="1043" font-size="15">U603</text><text x="1311" y="1055" font-size="15">L624</text><text transform="translate(1410,1005) rotate(-90)" font-size="14">C683</text><text transform="translate(1447,930) rotate(-90)" font-size="7">CR604</text>
<text x="1155" y="831" font-size="9">C607</text><text x="1190" y="765" font-size="7">C604</text><text x="1225" y="980" font-size="7">C689</text><text x="1261" y="980" font-size="7">C692</text><text x="1351" y="944" font-size="7">C615</text><text x="1351" y="970" font-size="7">C614</text><text x="1313" y="968" font-size="6">C611</text><text x="1345" y="1112" font-size="10">U1503</text>
<g font-size="4.5"><text x="1155" y="730">Q601</text><text x="1176" y="746">C1642</text><text x="1222" y="743">C619</text><text x="1203" y="695">R709</text><text x="1228" y="695">R710</text><text x="1120" y="882">C875</text><text x="1112" y="958">C874</text><text x="1110" y="970">C872</text><text x="1337" y="985">R601</text><text x="1396" y="937">R619</text><text x="1415" y="985">C682</text><text x="1128" y="1062">R639</text><text x="1170" y="1048">R649</text><text x="1170" y="1059">R631</text><text x="1170" y="1070">R640</text><text x="1129" y="1022">R645</text><text x="1115" y="1045">C697</text></g>
<g font-size="4.5"><text transform="translate(1214,728) rotate(-90)">Q701_NM</text><text transform="translate(1251,730) rotate(-90)">Q702_NM</text><text transform="translate(1210,852) rotate(-90)">C608</text><text transform="translate(1212,904) rotate(-90)">C606</text><text transform="translate(1175,930) rotate(-90)">DS602</text><text transform="translate(1202,932) rotate(-90)">R604</text><text transform="translate(1270,960) rotate(-90)">C603</text><text transform="translate(1295,960) rotate(-90)">C625</text><text transform="translate(1348,1018) rotate(-90)">C694</text><text transform="translate(1322,1018) rotate(-90)">C693</text><text transform="translate(1274,1025) rotate(-90)">DS603</text><text transform="translate(1381,1015) rotate(-90)">C695_NM</text><text transform="translate(1385,1070) rotate(-90)">C1633_NM</text><text transform="translate(1291,1068) rotate(-90)">C691</text><text transform="translate(1293,1105) rotate(-90)">C690</text><text transform="translate(1313,1105) rotate(-90)">C685</text><text transform="translate(1333,1088) rotate(-90)">C1547</text><text transform="translate(1442,875) rotate(-90)">L626</text><text transform="translate(1394,738) rotate(-90)">C616</text><text transform="translate(1358,948) rotate(-90)">R618</text><text transform="translate(1369,948) rotate(-90)">C624</text><text transform="translate(1215,972) rotate(-90)">C696</text><text transform="translate(1303,985) rotate(-90)">R633</text><text transform="translate(1168,780) rotate(-90)">Q602</text><text transform="translate(1195,790) rotate(-90)">C618</text><text transform="translate(1208,790) rotate(-90)">C610</text><text transform="translate(1220,790) rotate(-90)">C609</text><text transform="translate(1233,790) rotate(-90)">C617</text><text transform="translate(1203,815) rotate(-90)">R607</text><text transform="translate(1312,925) rotate(-90)">C628</text><text transform="translate(1322,925) rotate(-90)">R603</text><text transform="translate(1332,925) rotate(-90)">R602</text><text transform="translate(1340,875) rotate(-90)">C612</text><text transform="translate(1340,860) rotate(-90)">C613</text><text transform="translate(1340,835) rotate(-90)">C627</text><text transform="translate(1410,838) rotate(-90)">C626</text><text transform="translate(1420,838) rotate(-90)">C656</text><text transform="translate(1120,1040) rotate(-90)">C871</text><text transform="translate(1160,1015) rotate(-90)">C633</text><text transform="translate(1118,920) rotate(-90)">R858</text><text transform="translate(1138,932) rotate(-90)">R861</text><text transform="translate(1112,930) rotate(-90)">C676</text></g>
</svg>
</body></html>
